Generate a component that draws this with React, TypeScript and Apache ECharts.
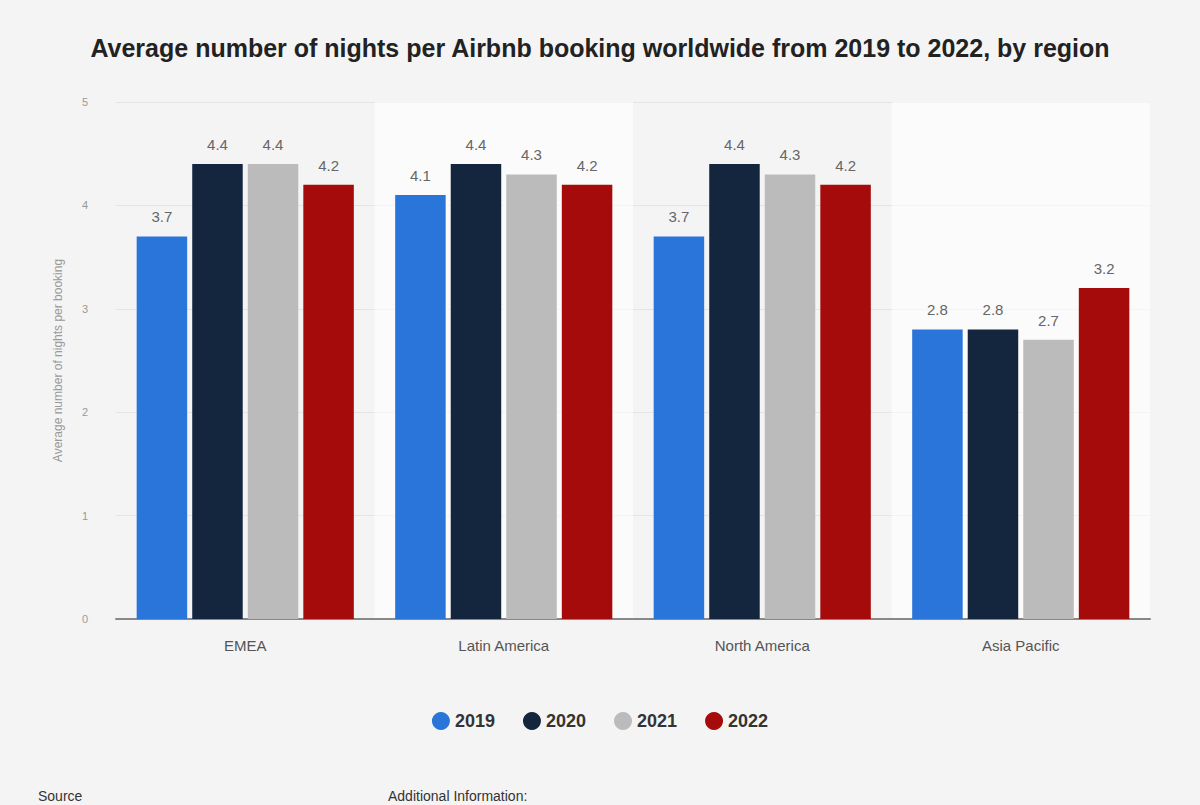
import React, { useEffect, useRef } from "react";
import * as echarts from "echarts";

const regions = ["EMEA", "Latin America", "North America", "Asia Pacific"];
const years = ["2019", "2020", "2021", "2022"];
const values2019 = [3.7, 4.1, 3.7, 2.8];
const values2020 = [4.4, 4.4, 4.4, 2.8];
const values2021 = [4.4, 4.3, 4.3, 2.7];
const values2022 = [4.2, 4.2, 4.2, 3.2];
const yTicks = [0, 1, 2, 3, 4, 5];
const colors = ["#2a75d9", "#13263e", "#bbbbbb", "#a50b0b"];

const FONT = "'Liberation Sans', Arial, Helvetica, sans-serif";

export default function App() {
  const ref = useRef<HTMLDivElement>(null);
  useEffect(() => {
    if (!ref.current) return;
    const chart = echarts.init(ref.current, undefined, { renderer: "svg" });
    const seriesValues = [values2019, values2020, values2021, values2022];
    chart.setOption({
      animation: false,
      backgroundColor: "#f4f4f4",
      textStyle: { fontFamily: FONT },
      title: {
        text: "Average number of nights per Airbnb booking worldwide from 2019 to 2022, by region",
        left: "center",
        top: 30,
        textStyle: { fontSize: 25, fontWeight: "bold", color: "#222", fontFamily: FONT },
      },
      legend: {
        data: years,
        bottom: 70,
        left: "center",
        icon: "circle",
        itemWidth: 18,
        itemHeight: 18,
        itemGap: 28,
        textStyle: { fontSize: 18, fontWeight: "bold", color: "#333", fontFamily: FONT },
      },
      grid: { left: 116, right: 50, top: 102, bottom: 186 },
      xAxis: {
        type: "category",
        data: regions,
        axisLine: { show: true, lineStyle: { color: "#888", width: 2 } },
        axisTick: { show: false },
        axisLabel: { fontSize: 15, color: "#555", margin: 19, fontFamily: FONT },
        splitArea: {
          show: true,
          areaStyle: { color: ["rgba(0,0,0,0)", "rgba(255,255,255,0.6)"] },
        },
      },
      yAxis: {
        type: "value",
        min: yTicks[0],
        max: yTicks[yTicks.length - 1],
        interval: 1,
        name: "Average number of nights per booking",
        nameLocation: "middle",
        nameGap: 52,
        nameTextStyle: { fontSize: 12, color: "#999", fontFamily: FONT },
        axisLine: { show: false },
        axisTick: { show: false },
        axisLabel: { fontSize: 11, color: "#999", margin: 28, fontFamily: FONT },
        splitLine: { lineStyle: { color: "#e4e4e4", width: 1 } },
      },
      series: years.map((y, i) => ({
        name: y,
        type: "bar",
        data: seriesValues[i],
        barGap: "10%",
        barCategoryGap: "16%",
        itemStyle: { color: colors[i] },
        label: {
          show: true,
          position: "top",
          distance: 12,
          fontSize: 15,
          color: "#666",
          fontFamily: FONT,
        },
      })),
      graphic: [
        {
          type: "text",
          left: 38,
          top: 789,
          style: { text: "Source", fontSize: 14, fill: "#333", fontFamily: FONT },
        },
        {
          type: "text",
          left: 388,
          top: 789,
          style: { text: "Additional Information:", fontSize: 14, fill: "#333", fontFamily: FONT },
        },
      ],
    });
    return () => chart.dispose();
  }, []);
  return <div ref={ref} style={{ width: 1200, height: 805, position: "absolute", left: 0, top: 0 }} />;
}
